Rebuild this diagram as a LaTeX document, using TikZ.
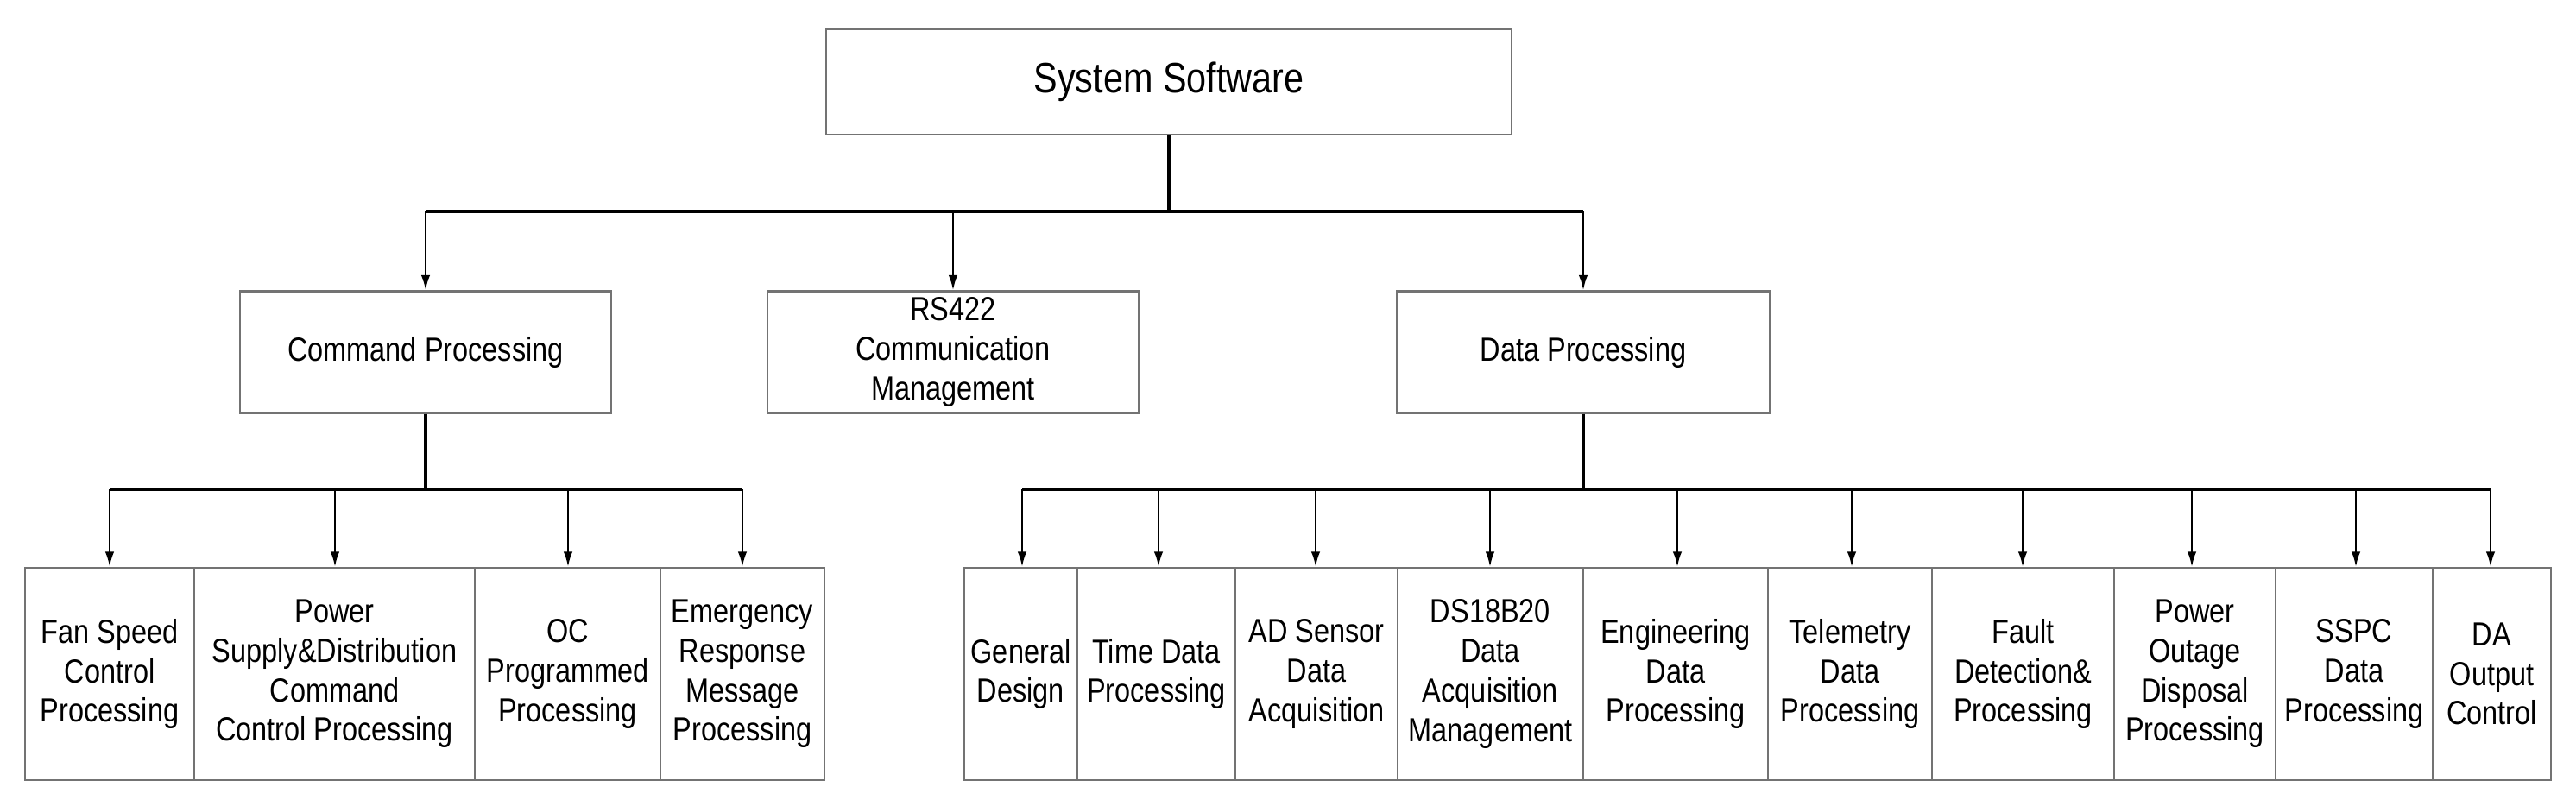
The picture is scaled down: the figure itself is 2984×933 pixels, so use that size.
\documentclass[tikz,border=0pt]{standalone}
\usepackage{fontspec}
\setmainfont{Liberation Sans}[FakeStretch=0.84]
\usetikzlibrary{arrows.meta}

\tikzset{
  box/.style={draw=black!55, line width=0.6pt, inner sep=0pt, align=center,
    font=\fontsize{11}{13}\selectfont},
  link/.style={-{Latex[length=5pt,width=3pt]}, line width=0.7pt},
  bus/.style={line width=0.9pt}
}

\begin{document}
\begin{tikzpicture}[x=0.01cm, y=-0.01cm]
\useasboundingbox (0,0) rectangle (2984,933);

% top level
\node [box, minimum width=7.94cm, minimum height=1.22cm,
  font=\fontsize{14}{16}\selectfont] (sys) at (1354,95) {System Software};

% second level
\node [box, minimum width=4.3cm, minimum height=1.41cm] (cmd) at (493,408) {Command Processing};
\node [box, minimum width=4.3cm, minimum height=1.41cm] (rs) at (1104,408) {RS422\\Communication\\Management};
\node [box, minimum width=4.31cm, minimum height=1.41cm] (dat) at (1834,408) {Data Processing};

\coordinate (j0) at (1354,245);
\draw [bus] (sys.south) -- (j0);
\draw [bus] (493,245) -- (1834,245);
\draw [link] (493,245) -- (cmd.north);
\draw [link] (1104,245) -- (rs.north);
\draw [link] (1834,245) -- (dat.north);

% command processing leaves
\foreach \n/\l/\r/\t in {
  c1/29/225/{Fan Speed\\Control\\Processing},
  c2/225/550/{Power\\Supply\&Distribution\\Command\\Control Processing},
  c3/550/765/{OC\\Programmed\\Processing},
  c4/765/955/{Emergency\\Response\\Message\\Processing}}{
  \node [box, minimum width=(\r-\l)*0.01cm, minimum height=2.46cm] (\n) at ({(\l+\r)/2},781) {\t};
}
\coordinate (cb) at (493,567);
\draw [bus] (cmd.south) -- (cb);
\draw [bus] (127,567) -- (860,567);
\foreach \n/\x in {c1/127,c2/388,c3/658,c4/860}
  \draw [link] (\x,567) -- (\x,0 |- \n.north);

% data processing leaves
\foreach \n/\l/\r/\t in {
  d1/1117/1248/{General\\Design},
  d2/1248/1431/{Time Data\\Processing},
  d3/1431/1619/{AD Sensor\\Data\\Acquisition},
  d4/1619/1834/{DS18B20\\Data\\Acquisition\\Management},
  d5/1834/2048/{Engineering\\Data\\Processing},
  d6/2048/2238/{Telemetry\\Data\\Processing},
  d7/2238/2449/{Fault\\Detection\&\\Processing},
  d8/2449/2636/{Power\\Outage\\Disposal\\Processing},
  d9/2636/2818/{SSPC\\Data\\Processing},
  d10/2818/2955/{DA\\Output\\Control}}{
  \node [box, minimum width=(\r-\l)*0.01cm, minimum height=2.46cm] (\n) at ({(\l+\r)/2},781) {\t};
}
\coordinate (db) at (1834,567);
\draw [bus] (dat.south) -- (db);
\draw [bus] (1184,567) -- (2885,567);
\foreach \n/\x in {d1/1184,d2/1342,d3/1524,d4/1726,d5/1943,d6/2145,d7/2343,d8/2539,d9/2729,d10/2885}
  \draw [link] (\x,567) -- (\x,0 |- \n.north);
\end{tikzpicture}
\end{document}
